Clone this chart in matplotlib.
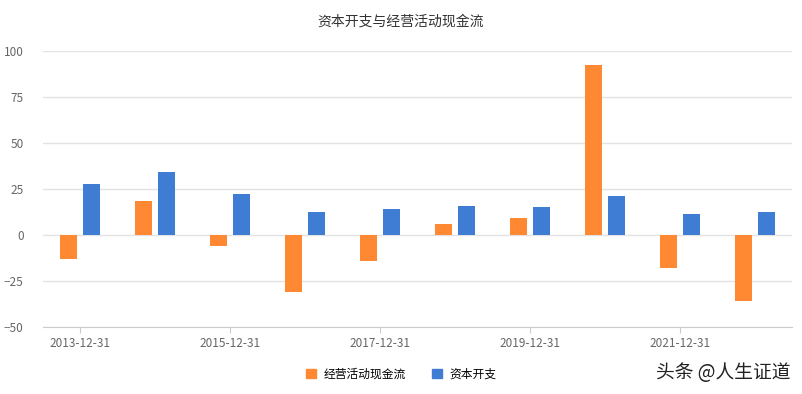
import numpy as np
import matplotlib
matplotlib.use('Agg')
import matplotlib.pyplot as plt
from matplotlib.patches import Patch

plt.rcParams['font.family'] = ['Noto Sans CJK SC', 'DejaVu Sans']

# Data
years = ['2013-12-31', '2014-12-31', '2015-12-31', '2016-12-31', '2017-12-31',
         '2018-12-31', '2019-12-31', '2020-12-31', '2021-12-31', '2022-12-31']
operating_cf = [-13.0, 18.5, -6.0, -30.8, -14.0, 6.0, 9.2, 92.6, -17.8, -35.7]
capex = [27.7, 34.2, 22.3, 12.5, 14.1, 15.8, 15.2, 21.2, 11.4, 12.5]
y_ticks = [-50, -25, 0, 25, 50, 75, 100]

orange = '#FF8833'
blue = '#3E7DD3'

fig = plt.figure(figsize=(8.02, 3.94), dpi=100)
ax = fig.add_axes([43 / 802, 1 - 327 / 394, 749 / 802, 276 / 394])

x = np.arange(len(years))
ax.bar(x - 0.153, operating_cf, width=0.227, color=orange, zorder=3)
ax.bar(x + 0.153, capex, width=0.227, color=blue, zorder=3)

ax.set_xlim(-0.5, len(years) - 0.5)
ax.set_ylim(-50, 100)
ax.set_yticks(y_ticks)
ax.grid(axis='y', color='#e3e3e3', linewidth=1, zorder=0)

# only every other category label, like the original
ax.set_xticks(x[::2])
ax.set_xticklabels(years[::2])
ax.tick_params(axis='x', length=4, color='#cccccc', labelsize=8.5,
               labelcolor='#666666', pad=3)
ax.tick_params(axis='y', length=0, labelsize=8.5, labelcolor='#666666', pad=14)

for side in ['top', 'right', 'left']:
    ax.spines[side].set_visible(False)
ax.spines['bottom'].set_color('#cccccc')

fig.text(0.5, 1 - 22 / 394, '资本开支与经营活动现金流', ha='center', va='center',
         fontsize=10, color='#333333')

handles = [Patch(color=orange, label='经营活动现金流'),
           Patch(color=blue, label='资本开支')]
fig.legend(handles=handles, loc='center', bbox_to_anchor=(0.5, 1 - 374 / 394),
           ncol=2, frameon=False, fontsize=8.5, handlelength=0.9,
           handleheight=0.9, columnspacing=2.2, handletextpad=0.6)

fig.text(790 / 802, 1 - 373 / 394, '头条 @人生证道', ha='right', va='center',
         fontsize=13.5, color='#222222')

fig.savefig('out.png', dpi=100)
